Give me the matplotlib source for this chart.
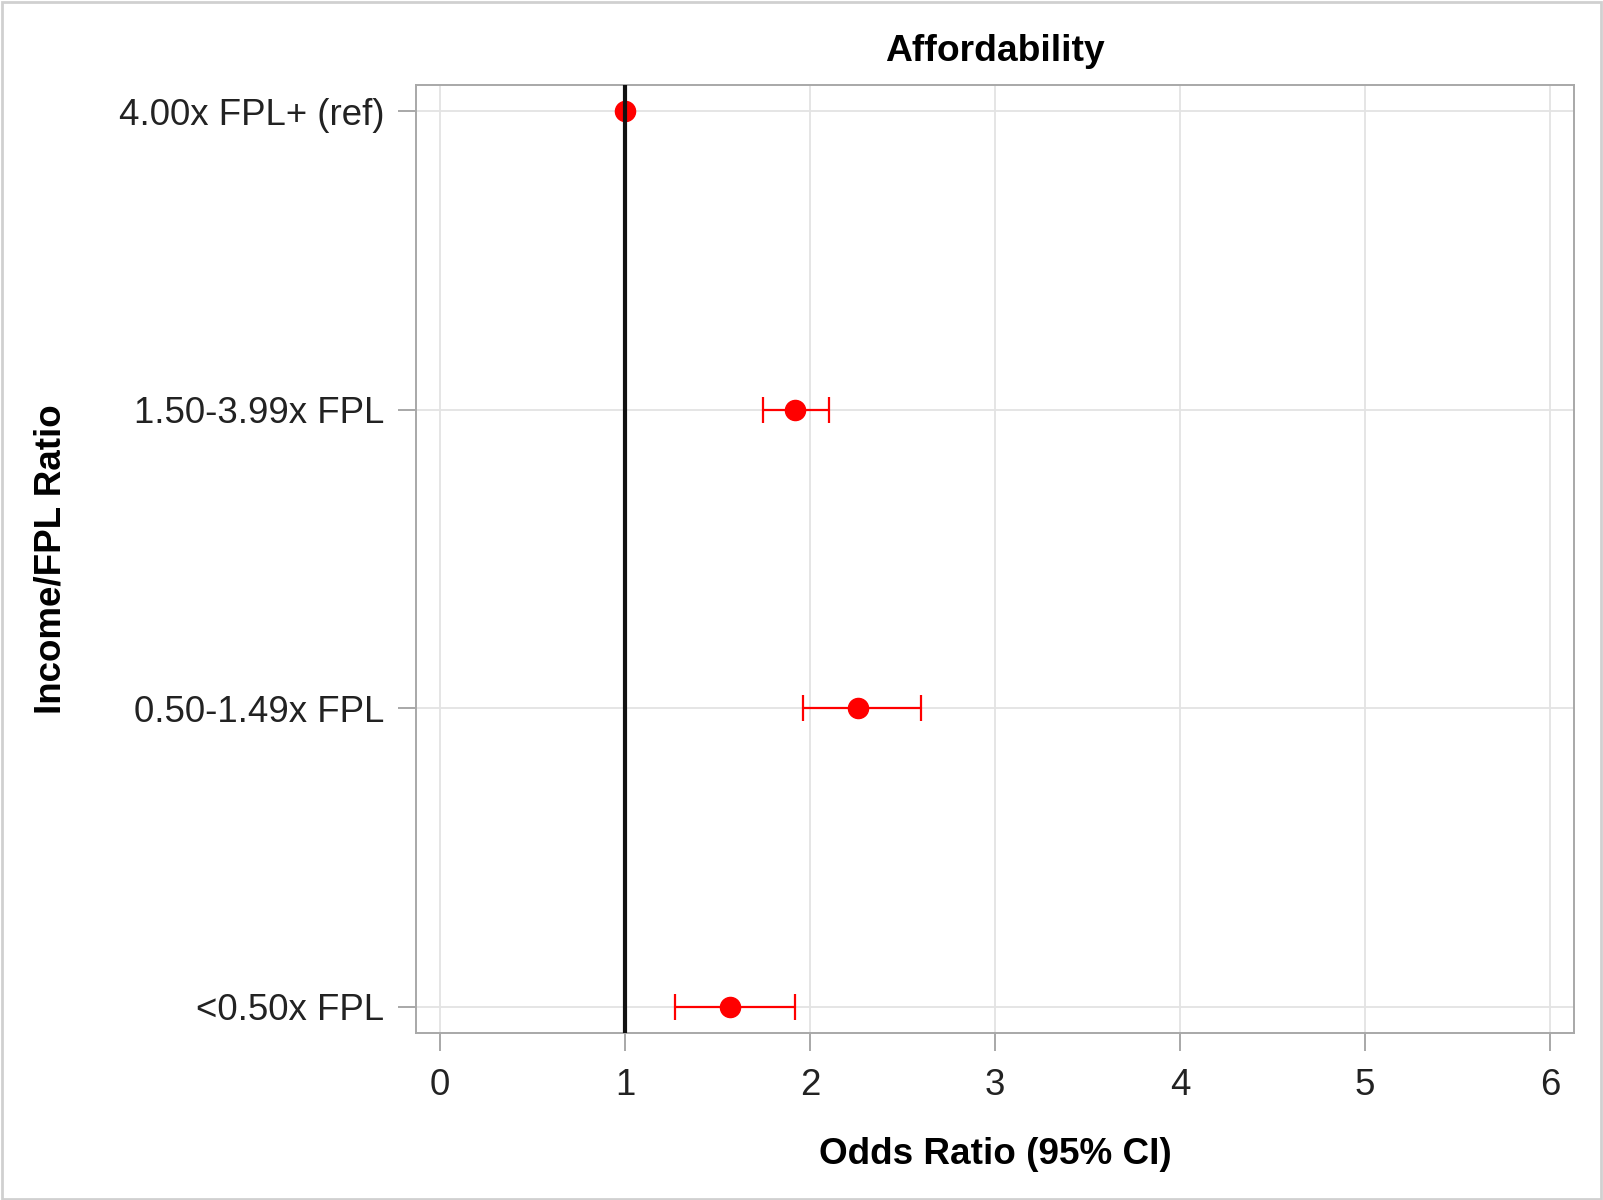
import matplotlib
matplotlib.use("Agg")
import matplotlib.pyplot as plt
from matplotlib.patches import Rectangle

categories = ["4.00x FPL+ (ref)", "1.50-3.99x FPL", "0.50-1.49x FPL", "<0.50x FPL"]
odds_ratio = [1.00, 1.92, 2.26, 1.57]
ci_lower = [1.00, 1.745, 1.96, 1.27]
ci_upper = [1.00, 2.10, 2.60, 1.92]
x_ticks = [0, 1, 2, 3, 4, 5, 6]

plt.rcParams['font.family'] = ['Liberation Sans', 'DejaVu Sans']

fig = plt.figure(figsize=(16.03, 12.0), dpi=100)
ax = fig.add_axes([416/1603, 1-1033/1200, (1574-416)/1603, (1033-85)/1200])

n = len(categories)
ypos = [n - 1 - i for i in range(n)]

for i in range(n):
    if i == 0:
        ax.plot(odds_ratio[i], ypos[i], 'o', color='#ff0000', markersize=14.5, zorder=3)
    else:
        ax.errorbar(odds_ratio[i], ypos[i],
                    xerr=[[odds_ratio[i]-ci_lower[i]], [ci_upper[i]-odds_ratio[i]]],
                    fmt='o', color='#ff0000', ecolor='#ff0000', markersize=14.5,
                    elinewidth=1.6, capsize=9.5, capthick=1.6, zorder=3)

ax.axvline(1, color='#111111', linewidth=3.0, zorder=4)

ax.set_xlim(-0.13, 6.13)
ax.set_ylim(-0.088, 3.088)
ax.set_xticks(x_ticks)
ax.set_xticklabels([str(t) for t in x_ticks])
ax.set_yticks(ypos)
ax.set_yticklabels(categories)

ax.grid(True, color='#e3e3e3', linewidth=1.3, zorder=0)
ax.set_axisbelow(True)
for s in ax.spines.values():
    s.set_color('#a8a8a8')
    s.set_linewidth(1.4)

ax.tick_params(axis='both', which='major', length=13, width=1.2, color='#9a9a9a',
               labelsize=26.4, labelcolor='#222222', pad=10)
ax.tick_params(axis='x', pad=12)

ax.set_title("Affordability", fontsize=26.8, fontweight='bold', pad=17)
ax.set_xlabel("Odds Ratio (95% CI)", fontsize=26.6, fontweight='bold', labelpad=25)
ax.set_ylabel("Income/FPL Ratio", fontsize=26.5, fontweight='bold', labelpad=36)

fig.patches.append(Rectangle((0.001, 0.001), 0.998, 0.997, transform=fig.transFigure,
                             fill=False, edgecolor='#d0d0d0', linewidth=2))

fig.savefig("out.png", dpi=100)
